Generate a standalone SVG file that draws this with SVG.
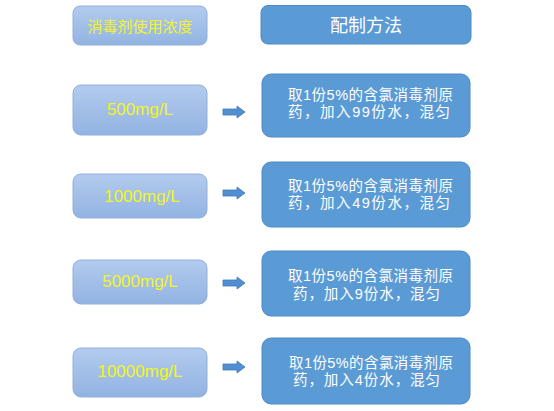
<svg xmlns="http://www.w3.org/2000/svg" width="554" height="411" viewBox="0 0 554 411">
<defs>
<linearGradient id="lg" x1="0" y1="0" x2="0" y2="1">
<stop offset="0" stop-color="#b3cbee"/>
<stop offset="1" stop-color="#92b3e2"/>
</linearGradient>
<path id="arr" d="M0,-3 L14,-3 L14,-6 L22,0 L14,6 L14,3 L0,3 Z"/>
</defs>
<style>
.lb{fill:url(#lg);stroke:#93b0dc;stroke-width:1}
.rb{fill:#5b9bd5;stroke:#4e8ac6;stroke-width:1}
.yt{fill:#f2f51e;font-family:"Liberation Sans","Noto Sans CJK SC",sans-serif;font-size:17px;text-anchor:middle}
.wt{fill:#ffffff;font-family:"Liberation Sans","Noto Sans CJK SC",sans-serif;font-size:14.5px}
.ar{fill:#4f8fd2;stroke:#3f78b8;stroke-width:0.8}
</style>
<rect width="554" height="411" fill="#ffffff"/>
<g id="header-left">
<rect class="lb" x="73" y="6" width="134" height="39" rx="7"/>
<text class="yt" x="140" y="32" style="font-size:15px">消毒剂使用浓度</text>
</g>
<g id="header-right">
<rect class="rb" x="261" y="5.5" width="210" height="38.5" rx="7"/>
<text class="wt" x="366" y="32" text-anchor="middle" style="font-size:18px">配制方法</text>
</g>
<g id="c500">
<rect class="lb" x="73" y="85" width="134" height="50" rx="8"/>
<text class="yt" x="140" y="115">500mg/L</text>
</g>
<g id="m500">
<rect class="rb" x="262" y="74" width="208" height="63" rx="9"/>
<text class="wt" x="288" y="100" textLength="165" lengthAdjust="spacing">取1份5%的含氯消毒剂原</text>
<text class="wt" x="288" y="117" textLength="162" lengthAdjust="spacing">药，加入99份水，混匀</text>
</g>
<g id="c1000">
<rect class="lb" x="73" y="174" width="134" height="44" rx="8"/>
<text class="yt" x="142" y="202">1000mg/L</text>
</g>
<g id="m1000">
<rect class="rb" x="262" y="162" width="208" height="65" rx="9"/>
<text class="wt" x="288" y="191" textLength="165" lengthAdjust="spacing">取1份5%的含氯消毒剂原</text>
<text class="wt" x="288" y="208" textLength="162" lengthAdjust="spacing">药，加入49份水，混匀</text>
</g>
<g id="c5000">
<rect class="lb" x="73" y="260" width="134" height="44" rx="8"/>
<text class="yt" x="140" y="287">5000mg/L</text>
</g>
<g id="m5000">
<rect class="rb" x="262" y="251" width="208" height="65" rx="9"/>
<text class="wt" x="288" y="281" textLength="165" lengthAdjust="spacing">取1份5%的含氯消毒剂原</text>
<text class="wt" x="293" y="299" textLength="147" lengthAdjust="spacing">药，加入9份水，混匀</text>
</g>
<g id="c10000">
<rect class="lb" x="73" y="348" width="134" height="49" rx="8"/>
<text class="yt" x="140" y="377">10000mg/L</text>
</g>
<g id="m10000">
<rect class="rb" x="262" y="338" width="208" height="66" rx="9"/>
<text class="wt" x="289" y="368" textLength="164" lengthAdjust="spacing">取1份5%的含氯消毒剂原</text>
<text class="wt" x="293" y="385" textLength="147" lengthAdjust="spacing">药，加入4份水，混匀</text>
</g>
<g id="connectors">
<use href="#arr" class="ar" transform="translate(223,112)"/>
<use href="#arr" class="ar" transform="translate(223,193)"/>
<use href="#arr" class="ar" transform="translate(223,283)"/>
<use href="#arr" class="ar" transform="translate(223,367)"/>
</g>
</svg>
